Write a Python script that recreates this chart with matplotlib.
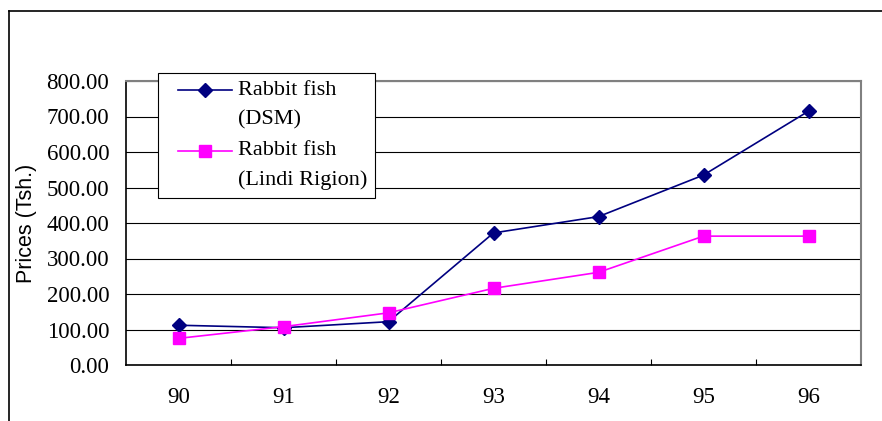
import matplotlib
matplotlib.use("Agg")
from matplotlib import pyplot as plt
from matplotlib.lines import Line2D
from matplotlib.ticker import FixedLocator

# price data
years = ['90', '91', '92', '93', '94', '95', '96']
dsm = [112, 105, 122, 372, 418, 535, 715]
lindi = [75, 108, 147, 216, 261, 363, 363]
yticks = [0, 100, 200, 300, 400, 500, 600, 700, 800]

serif = 'Liberation Serif'
fs = 16.5

fig = plt.figure(figsize=(8.82, 4.21), dpi=100)
ax = fig.add_axes([126/882, 56/421, 735/882, 284/421])

x = list(range(len(years)))
ax.plot(x, dsm, color='#000080', lw=1.2, marker='D', ms=7, label='Rabbit fish\n(DSM)')
ax.plot(x, lindi, color='#FF00FF', lw=1.2, marker='s', ms=8.5, label='Rabbit fish\n(Lindi Rigion)')

ax.set_xlim(-0.5, len(years) - 0.5)
ax.set_ylim(0, 800)
ax.set_yticks(yticks)
ax.set_yticklabels(['%.2f' % v for v in yticks], fontfamily=serif, fontsize=fs)
ax.set_xticks(x)
ax.set_xticklabels(years, fontfamily=serif, fontsize=fs)
ax.xaxis.set_minor_locator(FixedLocator([i + 0.5 for i in x[:-1]]))
ax.tick_params(axis='x', which='major', length=0, pad=16)
ax.tick_params(axis='x', which='minor', direction='in', length=4.5, width=0.8, color='black')
ax.tick_params(axis='y', length=0, pad=12)
ax.yaxis.grid(True, color='black', lw=0.8)
ax.set_axisbelow(True)

for s in ['top', 'right']:
    ax.spines[s].set_color('#808080')
    ax.spines[s].set_linewidth(1.5)
for s in ['left', 'bottom']:
    ax.spines[s].set_color('black')
    ax.spines[s].set_linewidth(1.2)

ax.set_ylabel('Prices (Tsh.)', fontfamily='Liberation Sans', fontsize=15.5)
ax.yaxis.set_label_coords(-0.121, 0.5)

leg = ax.legend(loc='upper left', bbox_to_anchor=(158/882, 1 - 73/421),
                bbox_transform=fig.transFigure, borderaxespad=0,
                prop={'family': serif, 'size': 16}, fancybox=False,
                edgecolor='black', framealpha=1, handlelength=3.0,
                handletextpad=0.27, borderpad=0.34, labelspacing=0.5)
leg.get_frame().set_linewidth(0.8)
for t in leg.get_texts():
    t.set_linespacing(1.75)
# put the legend markers next to the first text line, indented a little
for h in leg.legend_handles:
    xd = h.get_xdata()
    x0, x1 = xd[0] + 9, xd[-1]
    h.set_xdata([x0, (x0 + x1) / 2, x1])
    h.set_ydata([y + 10 for y in h.get_ydata()])

# outer chart frame
fig.add_artist(Line2D([8.5/882, 8.5/882], [0, 1 - 10.5/421], transform=fig.transFigure,
                      color='black', lw=1.2))
fig.add_artist(Line2D([8.5/882, 1], [1 - 10.5/421, 1 - 10.5/421], transform=fig.transFigure,
                      color='black', lw=1.2))

fig.savefig('out.png', dpi=100)
